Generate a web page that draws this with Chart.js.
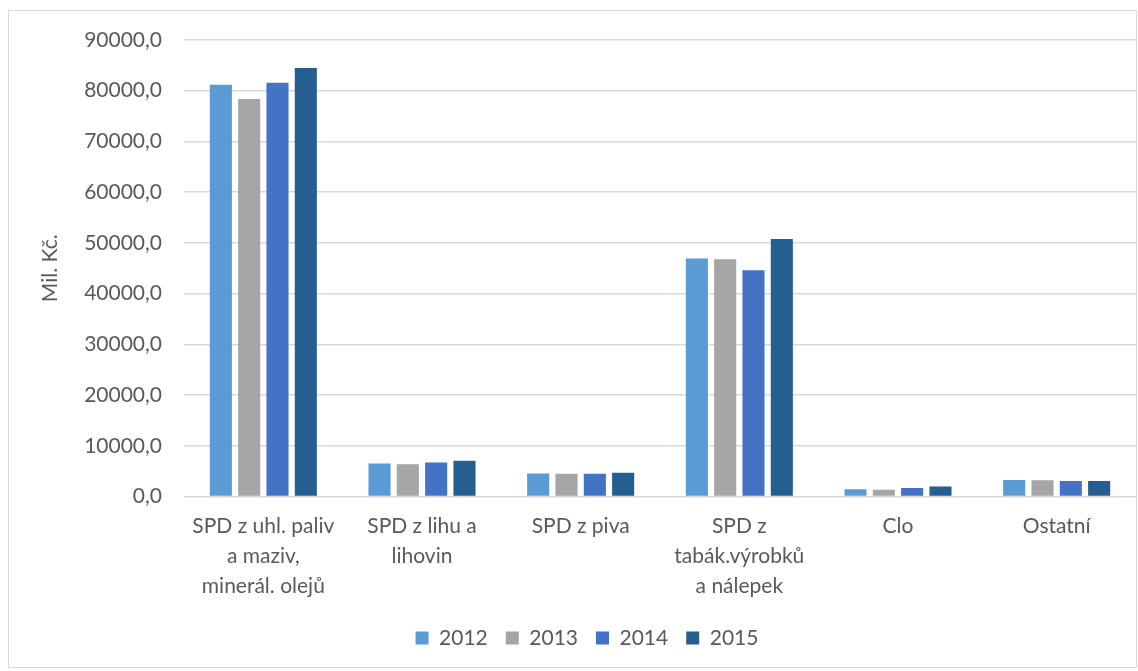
<!DOCTYPE html>
<html><head><meta charset="utf-8">
<script src="https://cdn.jsdelivr.net/npm/chart.js@4/dist/chart.umd.min.js"></script>
<style>html,body{margin:0;padding:0;background:#fff}#wrap{position:relative;width:1138px;height:671px}</style>
</head><body><div id="wrap"><canvas id="c" width="1138" height="671"></canvas></div>
<script>
const categories = [["SPD z uhl. paliv","a maziv,","minerál. olejů"],["SPD z lihu a","lihovin"],["SPD z piva"],["SPD z","tabák.výrobků","a nálepek"],["Clo"],["Ostatní"]];
const years = ["2012","2013","2014","2015"];
const v2012 = [81180, 6500, 4530, 46900, 1450, 3250];
const v2013 = [78360, 6370, 4470, 46760, 1350, 3200];
const v2014 = [81580, 6700, 4480, 44600, 1700, 3050];
const v2015 = [84470, 7030, 4660, 50780, 1950, 3050];
const colors = ["#5B9BD5","#A5A5A5","#4472C4","#255E91"];
const yTicks = [0,10000,20000,30000,40000,50000,60000,70000,80000,90000];
const FONT = "Lato, 'Open Sans', sans-serif";
const TXT = "#595959";

const borderPlugin = {id:'frame', afterDraw(chart){const c=chart.ctx;c.save();c.strokeStyle='#D9D9D9';c.lineWidth=1;c.strokeRect(8.5,10.5,1128,657);c.restore();}};

new Chart(document.getElementById('c'), {
  type:'bar',
  data:{labels:categories, datasets:[v2012,v2013,v2014,v2015].map((d,i)=>({label:years[i],data:d,backgroundColor:colors[i],borderWidth:0,categoryPercentage:0.714,barPercentage:0.78}))},
  options:{responsive:false,animation:false,
    layout:{padding:{left:38,top:40,right:2,bottom:12.5}},
    plugins:{legend:{position:'bottom',labels:{font:{family:FONT,size:21},color:TXT,boxWidth:13,boxHeight:13,padding:18}},tooltip:{enabled:false}},
    scales:{
      x:{afterFit(s){s.height=113;},grid:{display:false,drawTicks:false},border:{display:false},ticks:{font:{family:FONT,size:21,lineHeight:1.43},color:TXT,maxRotation:0,autoSkip:false,padding:15}},
      y:{min:0,max:90000,afterFit(s){s.width=146;},afterBuildTicks(s){s.ticks=yTicks.map(v=>({value:v}));},
         grid:{color:'#D9D9D9',lineWidth:1.5,drawTicks:false},border:{display:false},
         ticks:{font:{family:FONT,size:21},color:TXT,padding:22,callback:v=>v.toFixed(1).replace('.',',')},
         title:{display:true,text:'Mil. Kč.',font:{family:FONT,size:21},color:TXT,padding:0}}
    }
  },
  plugins:[borderPlugin]
});
</script></body></html>
